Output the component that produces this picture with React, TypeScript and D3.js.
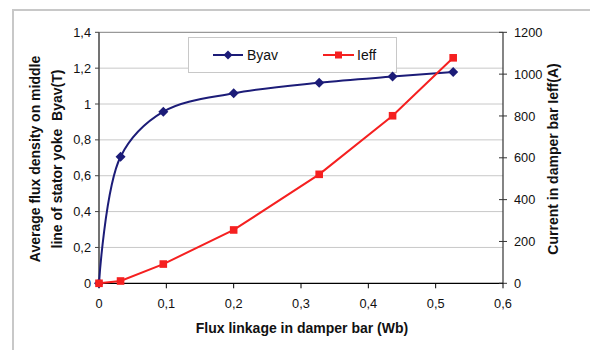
import React from "react";
import * as d3 from "d3";

const fluxLinkage = [0, 0.032, 0.0955, 0.2, 0.327, 0.436, 0.526];
const byav = [0, 0.706, 0.957, 1.06, 1.119, 1.153, 1.178];
const ieff = [0, 11, 92, 255, 521, 801, 1078];
const xTicks = [0, 0.1, 0.2, 0.3, 0.4, 0.5, 0.6];
const yLeftTicks = [0, 0.2, 0.4, 0.6, 0.8, 1, 1.2, 1.4];
const yRightTicks = [0, 200, 400, 600, 800, 1000, 1200];

const BLUE = "#1c1c78";
const RED = "#f52020";
const FONT = "'Liberation Sans', Arial, sans-serif";

const fmt = (v: number) => String(+v.toFixed(2)).replace(".", ",");

export default function App() {
  const W = 590, H = 350;
  const x = d3.scaleLinear().domain([0, 0.6]).range([99, 503]);
  const yL = d3.scaleLinear().domain([0, 1.4]).range([283.3, 32.3]);
  const yR = d3.scaleLinear().domain([0, 1200]).range([283.3, 32.3]);

  const byavLine = d3
    .line<number>()
    .x((_, i) => x(fluxLinkage[i]))
    .y((d) => yL(d))
    .curve(d3.curveCatmullRom.alpha(0.5))(byav) as string;
  const ieffLine = d3
    .line<number>()
    .x((_, i) => x(fluxLinkage[i]))
    .y((d) => yR(d))(ieff) as string;

  const diamond = (cx: number, cy: number, r = 5) =>
    `M${cx},${cy - r}L${cx + r},${cy}L${cx},${cy + r}L${cx - r},${cy}Z`;

  const TICK = 12.8;
  const TITLE = 14;

  return (
    <svg width={W} height={H} style={{ position: "absolute", left: 0, top: 0 }} fontFamily={FONT}>
      <rect x={0} y={0} width={W} height={H} fill="#fff" />
      <rect x={13} y={10} width={W} height={H} fill="none" stroke="#c8c8c8" strokeWidth={2} />
      {/* gridlines */}
      {yLeftTicks.slice(1).map((t) => (
        <line key={t} x1={x(0)} x2={x(0.6)} y1={yL(t)} y2={yL(t)}
          stroke={t === 1.4 ? "#808080" : "#c8c8c8"} strokeWidth={1} />
      ))}
      {/* legend */}
      <rect x={188.5} y={37.5} width={208} height={35} fill="#fff" stroke="#c8c8c8" strokeWidth={1} />
      <line x1={213} x2={243} y1={55} y2={55} stroke={BLUE} strokeWidth={2} />
      <path d={diamond(228, 55, 4.5)} fill={BLUE} />
      <text x={247} y={60} fontSize={14} fill="#111">Byav</text>
      <line x1={323} x2={354} y1={55} y2={55} stroke={RED} strokeWidth={2} />
      <rect x={335} y={51.5} width={7} height={7} fill={RED} />
      <text x={357} y={60} fontSize={14} fill="#111">Ieff</text>

      {/* axes */}
      <line x1={99} x2={99} y1={yL(1.4)} y2={yL(0)} stroke="#444" strokeWidth={1.5} />
      <line x1={503} x2={503} y1={yR(1200)} y2={yR(0)} stroke="#333" strokeWidth={1.2} />
      <line x1={99} x2={503} y1={yL(0)} y2={yL(0)} stroke="#000" strokeWidth={1.2} />
      {yLeftTicks.map((t) => (
        <g key={t}>
          <line x1={95} x2={99} y1={yL(t)} y2={yL(t)} stroke="#444" />
          <text x={91} y={yL(t) + 4.6} textAnchor="end" fontSize={TICK} fill="#111">{fmt(t)}</text>
        </g>
      ))}
      {yRightTicks.map((t) => (
        <g key={t}>
          <line x1={499} x2={507} y1={yR(t)} y2={yR(t)} stroke="#333" />
          <text x={514} y={yR(t) + 4.6} fontSize={TICK} fill="#111">{t}</text>
        </g>
      ))}
      {xTicks.map((t) => (
        <g key={t}>
          <line x1={x(t)} x2={x(t)} y1={yL(0)} y2={yL(0) + 5} stroke="#000" />
          <text x={x(t)} y={308} textAnchor="middle" fontSize={TICK} fill="#111">{fmt(t)}</text>
        </g>
      ))}

      {/* series */}
      <path d={byavLine} fill="none" stroke={BLUE} strokeWidth={2} />
      {byav.map((v, i) => (
        <path key={i} d={diamond(x(fluxLinkage[i]), yL(v), 5)} fill={BLUE} />
      ))}
      <path d={ieffLine} fill="none" stroke={RED} strokeWidth={2} />
      {ieff.map((v, i) => (
        <rect key={i} x={x(fluxLinkage[i]) - 3.8} y={yR(v) - 3.8} width={7.6} height={7.6} fill={RED} />
      ))}

      {/* titles */}
      <text x={302} y={333} textAnchor="middle" fontSize={TITLE} fontWeight="bold" fill="#111">
        Flux linkage in damper bar (Wb)
      </text>
      <g transform="translate(40,159) rotate(-90)">
        <text x={0} y={0} textAnchor="middle" fontSize={TITLE} fontWeight="bold" fill="#111">
          Average flux density on middle
        </text>
        <text x={0} y={22} textAnchor="middle" fontSize={TITLE} fontWeight="bold" fill="#111" style={{ whiteSpace: "pre" }}>
          {"line of stator yoke  Byav(T)"}
        </text>
      </g>
      <g transform="translate(558,159) rotate(-90)">
        <text x={0} y={0} textAnchor="middle" fontSize={TITLE} fontWeight="bold" fill="#111">
          Current in damper bar Ieff(A)
        </text>
      </g>
    </svg>
  );
}
